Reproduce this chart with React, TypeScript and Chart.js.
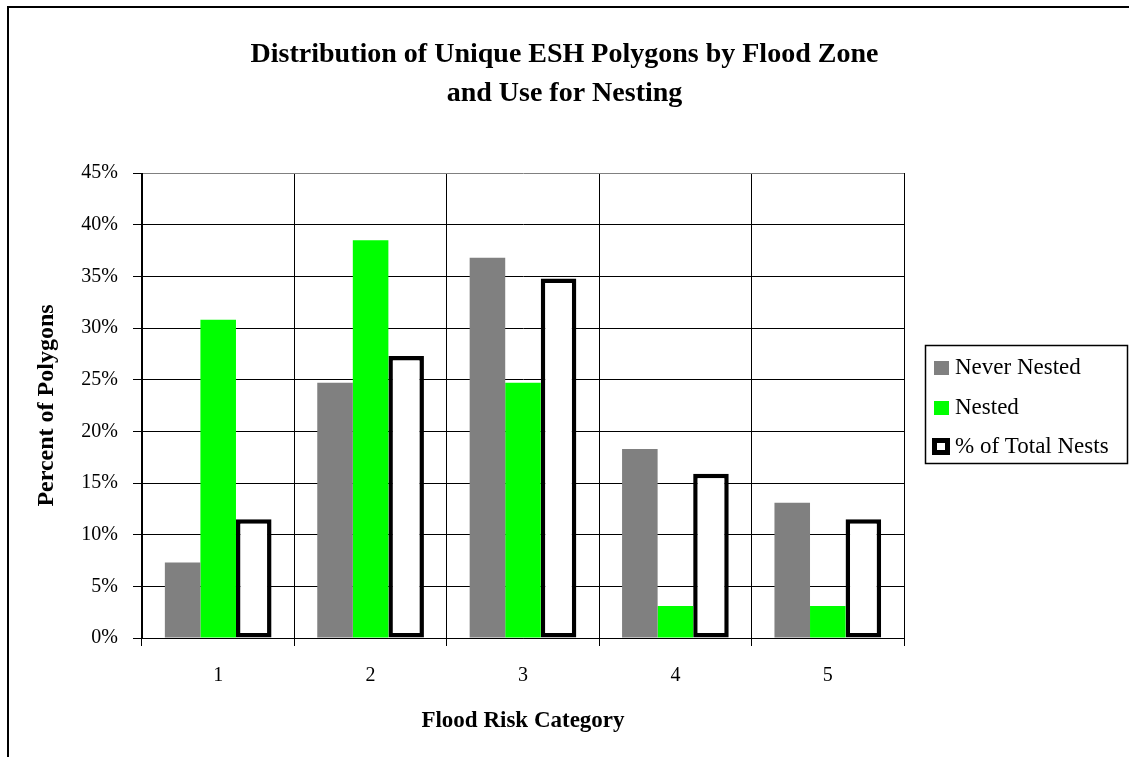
import React, { useEffect, useRef } from "react";
import { Chart, registerables } from "chart.js";

Chart.register(...registerables);

const categories = ["1", "2", "3", "4", "5"];
const neverNested = [7.3, 24.7, 36.8, 18.3, 13.1];
const nested = [30.8, 38.5, 24.7, 3.1, 3.1];
const totalNests = [11.5, 27.3, 34.8, 15.9, 11.5];
const seriesLabels = ["Never Nested", "Nested", "% of Total Nests"];
const yTickValues = [0, 5, 10, 15, 20, 25, 30, 35, 40, 45];
const titleLines = ["Distribution of Unique ESH Polygons by Flood Zone", "and Use for Nesting"];
const xTitle = "Flood Risk Category";
const yTitle = "Percent of Polygons";

const SERIF = '"Liberation Serif", "Times New Roman", Times, serif';

const framePlugin = {
  id: "frameAndLegend",
  afterDraw(chart: any) {
    const ctx = chart.ctx;
    const W = chart.width;
    const H = chart.height;
    ctx.save();
    // outer chart frame (top and left only visible)
    ctx.fillStyle = "#000";
    ctx.fillRect(7, 6, W - 7, 2);
    ctx.fillRect(7, 6, 2, H - 6);
    // legend box
    ctx.strokeStyle = "#000";
    ctx.lineWidth = 1.5;
    ctx.strokeRect(925.5, 345.5, 202, 118);
    const ys = [368, 408, 447];
    chart.data.datasets.forEach((ds: any, i: number) => {
      const y = ys[i];
      if (ds.backgroundColor !== "#ffffff") {
        ctx.fillStyle = ds.backgroundColor;
        ctx.fillRect(934, y - 7, 15, 14);
      } else {
        ctx.fillStyle = "#000";
        ctx.fillRect(932, y - 9, 18, 17);
        ctx.fillStyle = "#fff";
        ctx.fillRect(937, y - 4, 8, 7);
      }
      ctx.fillStyle = "#000";
      ctx.font = `23px ${SERIF}`;
      ctx.textBaseline = "middle";
      ctx.textAlign = "left";
      ctx.fillText(ds.label, 955, y);
    });
    ctx.restore();
  },
};

export default function App() {
  const ref = useRef<HTMLCanvasElement | null>(null);

  useEffect(() => {
    if (!ref.current) return;
    const chart = new Chart(ref.current, {
      type: "bar",
      data: {
        labels: categories,
        datasets: [
          {
            label: seriesLabels[0],
            data: neverNested,
            backgroundColor: "#808080",
            borderWidth: 0,
          },
          {
            label: seriesLabels[1],
            data: nested,
            backgroundColor: "#00ff00",
            borderWidth: 0,
          },
          {
            label: seriesLabels[2],
            data: totalNests,
            backgroundColor: "#ffffff",
            borderColor: "#000000",
            borderWidth: 4.5,
            borderSkipped: false,
          },
        ],
      },
      options: {
        responsive: false,
        animation: false,
        devicePixelRatio: 1,
        layout: { padding: 0 },
        datasets: {
          bar: { categoryPercentage: 0.7, barPercentage: 1.0 },
        },
        plugins: {
          legend: { display: false },
          tooltip: { enabled: false },
          title: {
            display: true,
            text: titleLines,
            color: "#000",
            font: { family: SERIF, size: 28, weight: "bold", lineHeight: 1.4 },
            padding: { top: 35, bottom: 59.6 },
          },
        },
        scales: {
          x: {
            type: "category",
            offset: true,
            grid: {
              display: true,
              offset: true,
              color: (c: any) => (c.index === categories.length ? "#808080" : "#000"),
              tickColor: "#000",
              tickLength: 8,
              lineWidth: 1,
            },
            border: { display: true, color: "#000", width: 1 },
            ticks: {
              color: "#000",
              font: { family: SERIF, size: 20 },
              padding: 18,
            },
            title: {
              display: true,
              text: xTitle,
              color: "#000",
              font: { family: SERIF, size: 23, weight: "bold" },
              padding: { top: 0, bottom: 22 },
            },
            afterFit: (s: any) => {
              s.height = 119;
            },
          },
          y: {
            type: "linear",
            position: "left",
            min: 0,
            max: 45,
            afterBuildTicks: (axis: any) => {
              axis.ticks = yTickValues.map((v) => ({ value: v }));
            },
            grid: {
              color: (c: any) => (c.tick && c.tick.value === 45 ? "#808080" : "#000"),
              tickColor: "#000",
              tickLength: 9,
              lineWidth: 1,
            },
            border: { display: true, color: "#000", width: 1 },
            ticks: {
              color: "#000",
              font: { family: SERIF, size: 20 },
              padding: 15,
              callback: (v: any) => `${v}%`,
            },
            title: {
              display: true,
              text: yTitle,
              color: "#000",
              font: { family: SERIF, size: 24, weight: "bold" },
              padding: { top: 32, bottom: 0 },
            },
            afterFit: (s: any) => {
              s.width = 142;
            },
          },
          yRight: {
            type: "linear",
            position: "right",
            min: 0,
            max: 45,
            grid: { display: false, drawTicks: false },
            border: { display: false },
            ticks: { display: false },
            afterFit: (s: any) => {
              s.width = 225;
            },
          },
        },
      },
      plugins: [framePlugin],
    } as any);
    return () => chart.destroy();
  }, []);

  return (
    <div style={{ position: "absolute", left: 0, top: 0, width: 1129, height: 757, background: "#fff" }}>
      <canvas ref={ref} width={1129} height={757} style={{ display: "block" }} />
    </div>
  );
}
